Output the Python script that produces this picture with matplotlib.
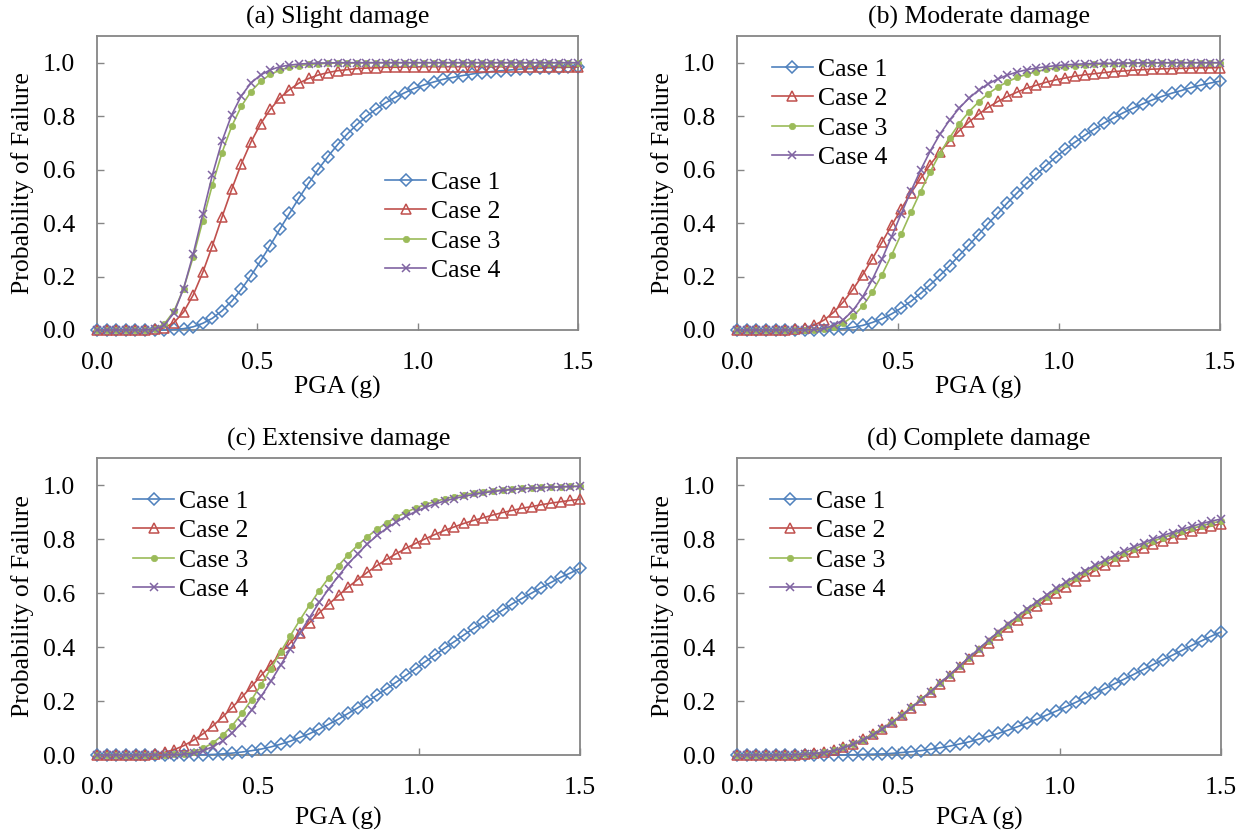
import matplotlib
matplotlib.use("Agg")
import matplotlib.pyplot as plt

plt.rcParams['font.family'] = ['Liberation Serif', 'DejaVu Serif']

pga = [0.00, 0.03, 0.06, 0.09, 0.12, 0.15, 0.18, 0.21, 0.24, 0.27,
       0.30, 0.33, 0.36, 0.39, 0.42, 0.45, 0.48, 0.51, 0.54, 0.57,
       0.60, 0.63, 0.66, 0.69, 0.72, 0.75, 0.78, 0.81, 0.84, 0.87,
       0.90, 0.93, 0.96, 0.99, 1.02, 1.05, 1.08, 1.11, 1.14, 1.17,
       1.20, 1.23, 1.26, 1.29, 1.32, 1.35, 1.38, 1.41, 1.44, 1.47, 1.50]

case_labels = ["Case 1", "Case 2", "Case 3", "Case 4"]
panel_titles = ["(a) Slight damage", "(b) Moderate damage",
                "(c) Extensive damage", "(d) Complete damage"]

# (a) Slight damage
slight_c1 = [0]*8 + [0.002, 0.005, 0.012, 0.025, 0.044, 0.072, 0.108, 0.152, 0.203, 0.258,
                     0.316, 0.377, 0.436, 0.494, 0.549, 0.601, 0.649, 0.693, 0.733, 0.768,
                     0.799, 0.826, 0.850, 0.870, 0.888, 0.904, 0.917, 0.928, 0.938, 0.945,
                     0.952, 0.958, 0.963, 0.967, 0.970, 0.973, 0.976, 0.978, 0.979, 0.981,
                     0.982, 0.983, 0.984]
slight_c2 = [0]*6 + [0.002, 0.008, 0.028, 0.067, 0.131, 0.216, 0.316, 0.423, 0.526, 0.621,
                     0.703, 0.771, 0.825, 0.868, 0.899, 0.924, 0.941, 0.954, 0.963, 0.970,
                     0.974, 0.978, 0.980, 0.981, 0.983, 0.983, 0.984, 0.984] + [0.985]*17
slight_c3 = [0]*6 + [0.005, 0.023, 0.070, 0.155, 0.273, 0.409, 0.544, 0.664, 0.762, 0.837,
                     0.892, 0.930, 0.956, 0.972, 0.983, 0.989, 0.994, 0.996, 0.998, 0.999,
                     0.999, 0.999] + [1.0]*23
slight_c4 = [0]*6 + [0.003, 0.018, 0.064, 0.155, 0.284, 0.434, 0.581, 0.707, 0.805, 0.876,
                     0.924, 0.954, 0.973, 0.985, 0.991, 0.995, 0.997, 0.999, 0.999] + [1.0]*26

# (b) Moderate damage
moderate_c1 = [0]*9 + [0.001, 0.002, 0.005, 0.010, 0.017, 0.028, 0.042, 0.060, 0.082, 0.107,
                       0.137, 0.169, 0.204, 0.240, 0.279, 0.317, 0.357, 0.398, 0.436, 0.476,
                       0.513, 0.549, 0.582, 0.615, 0.647, 0.676, 0.703, 0.728, 0.752, 0.774,
                       0.794, 0.813, 0.830, 0.846, 0.861, 0.874, 0.886, 0.896, 0.907, 0.916,
                       0.924, 0.931]
moderate_c2 = [0]*6 + [0.002, 0.007, 0.018, 0.037, 0.066, 0.105, 0.152, 0.206, 0.266, 0.328,
                       0.391, 0.453, 0.512, 0.567, 0.619, 0.665, 0.707, 0.745, 0.778, 0.807,
                       0.833, 0.855, 0.874, 0.890, 0.905, 0.916, 0.927, 0.936, 0.943, 0.950,
                       0.955, 0.959, 0.963, 0.967, 0.969, 0.972, 0.974, 0.976, 0.977, 0.978,
                       0.979, 0.980, 0.981, 0.981, 0.982]
moderate_c3 = [0]*8 + [0.001, 0.004, 0.011, 0.025, 0.051, 0.089, 0.141, 0.206, 0.280, 0.359,
                       0.440, 0.518, 0.592, 0.660, 0.719, 0.772, 0.816, 0.853, 0.884, 0.909,
                       0.929, 0.945, 0.957, 0.967, 0.975, 0.981, 0.985, 0.989, 0.991, 0.994,
                       0.995, 0.996, 0.997, 0.998, 0.998, 0.999, 0.999] + [1.0]*6
moderate_c4 = [0]*8 + [0.002, 0.006, 0.017, 0.038, 0.073, 0.123, 0.188, 0.264, 0.349, 0.435,
                       0.519, 0.598, 0.669, 0.732, 0.785, 0.830, 0.867, 0.897, 0.921, 0.939,
                       0.954, 0.965, 0.974, 0.980, 0.985, 0.989, 0.992, 0.994, 0.996, 0.997,
                       0.998, 0.998, 0.999, 0.999] + [1.0]*9

# (c) Extensive damage
extensive_c1 = [0]*10 + [0.001, 0.001, 0.002, 0.004, 0.007, 0.011, 0.016, 0.022, 0.030, 0.040,
                         0.051, 0.065, 0.079, 0.096, 0.114, 0.133, 0.154, 0.175, 0.198, 0.222,
                         0.246, 0.270, 0.295, 0.320, 0.346, 0.371, 0.396, 0.420, 0.445, 0.469,
                         0.492, 0.515, 0.537, 0.560, 0.580, 0.600, 0.620, 0.639, 0.658, 0.674,
                         0.691]
extensive_c2 = [0]*5 + [0.001, 0.004, 0.010, 0.020, 0.035, 0.055, 0.079, 0.108, 0.141, 0.176,
                        0.214, 0.254, 0.295, 0.335, 0.376, 0.415, 0.453, 0.490, 0.526, 0.559,
                        0.591, 0.622, 0.650, 0.677, 0.702, 0.725, 0.746, 0.766, 0.784, 0.801,
                        0.817, 0.832, 0.845, 0.858, 0.869, 0.879, 0.889, 0.898, 0.906, 0.914,
                        0.920, 0.927, 0.933, 0.938, 0.943, 0.947]
extensive_c3 = [0]*8 + [0.002, 0.005, 0.012, 0.025, 0.045, 0.073, 0.109, 0.154, 0.205, 0.261,
                        0.320, 0.381, 0.441, 0.500, 0.555, 0.609, 0.657, 0.701, 0.742, 0.777,
                        0.809, 0.836, 0.860, 0.881, 0.899, 0.915, 0.928, 0.939, 0.949, 0.957,
                        0.964, 0.970, 0.975, 0.979, 0.982, 0.985, 0.988, 0.990, 0.991, 0.993,
                        0.994, 0.995, 0.996]
extensive_c4 = [0]*8 + [0.001, 0.003, 0.007, 0.016, 0.031, 0.052, 0.082, 0.120, 0.166, 0.217,
                        0.273, 0.332, 0.392, 0.451, 0.509, 0.565, 0.616, 0.663, 0.708, 0.746,
                        0.782, 0.813, 0.840, 0.863, 0.884, 0.902, 0.917, 0.930, 0.941, 0.950,
                        0.958, 0.965, 0.971, 0.976, 0.980, 0.983, 0.986, 0.988, 0.990, 0.992,
                        0.993, 0.994, 0.995]

# (d) Complete damage
complete_c1 = [0]*12 + [0.001, 0.002, 0.003, 0.004, 0.006, 0.009, 0.012, 0.016, 0.021, 0.027,
                        0.033, 0.041, 0.049, 0.059, 0.069, 0.080, 0.092, 0.105, 0.119, 0.133,
                        0.148, 0.163, 0.179, 0.195, 0.212, 0.229, 0.246, 0.264, 0.281, 0.299,
                        0.317, 0.335, 0.353, 0.370, 0.388, 0.406, 0.423, 0.440, 0.456]
complete_c2 = [0]*6 + [0.001, 0.003, 0.006, 0.011, 0.018, 0.029, 0.042, 0.058, 0.077, 0.098,
                       0.122, 0.148, 0.175, 0.204, 0.233, 0.264, 0.294, 0.325, 0.355, 0.385,
                       0.416, 0.444, 0.473, 0.500, 0.527, 0.552, 0.576, 0.600, 0.623, 0.644,
                       0.664, 0.683, 0.702, 0.719, 0.736, 0.751, 0.766, 0.780, 0.793, 0.805,
                       0.817, 0.828, 0.839, 0.848, 0.857]
complete_c3 = [0]*6 + [0.001, 0.002, 0.005, 0.010, 0.018, 0.028, 0.041, 0.057, 0.076, 0.098,
                       0.122, 0.148, 0.176, 0.206, 0.236, 0.267, 0.298, 0.330, 0.361, 0.392,
                       0.423, 0.452, 0.482, 0.509, 0.537, 0.562, 0.587, 0.611, 0.634, 0.655,
                       0.676, 0.695, 0.714, 0.731, 0.747, 0.763, 0.778, 0.792, 0.805, 0.817,
                       0.828, 0.839, 0.849, 0.858, 0.867]
complete_c4 = [0]*6 + [0.001, 0.002, 0.005, 0.009, 0.016, 0.026, 0.039, 0.054, 0.073, 0.095,
                       0.119, 0.146, 0.174, 0.204, 0.235, 0.267, 0.298, 0.331, 0.362, 0.394,
                       0.426, 0.456, 0.486, 0.514, 0.542, 0.568, 0.593, 0.618, 0.641, 0.663,
                       0.683, 0.703, 0.721, 0.739, 0.755, 0.771, 0.786, 0.800, 0.813, 0.824,
                       0.836, 0.847, 0.857, 0.866, 0.874]

panels = [
    [slight_c1, slight_c2, slight_c3, slight_c4],
    [moderate_c1, moderate_c2, moderate_c3, moderate_c4],
    [extensive_c1, extensive_c2, extensive_c3, extensive_c4],
    [complete_c1, complete_c2, complete_c3, complete_c4],
]

x_ticks = [0.0, 0.5, 1.0, 1.5]
y_ticks = [0.0, 0.2, 0.4, 0.6, 0.8, 1.0]

colors = ['#4F81BD', '#C0504D', '#9BBB59', '#8064A2']
styles = [
    dict(marker='D', markersize=5.8, markerfacecolor='none', markeredgewidth=1.1),
    dict(marker='^', markersize=7.5, markerfacecolor='none', markeredgewidth=1.1),
    dict(marker='o', markersize=4.6, markeredgewidth=0.5),
    dict(marker='x', markersize=6.0, markeredgewidth=1.1),
]

FS = 18.5
fig = plt.figure(figsize=(12.5, 8.33), dpi=100)

axes_rects = [
    [97/1250, 1-330/833, 481/1250, 294/833],
    [737/1250, 1-330/833, 483/1250, 294/833],
    [97/1250, 1-755/833, 483/1250, 297/833],
    [737/1250, 1-755/833, 484/1250, 297/833],
]
legend_anchor = [
    (0.599, 0.541),
    (0.072, 0.926),
    (0.0745, 0.893),
    (0.068, 0.893),
]
xlabel_pads = [2, 2, 6, 6]

spine_color = '#868686'
for i, rect in enumerate(axes_rects):
    ax = fig.add_axes(rect)
    for j, series in enumerate(panels[i]):
        ax.plot(pga, series, color=colors[j], linewidth=1.2,
                markeredgecolor=colors[j], label=case_labels[j],
                clip_on=False, zorder=3 + j, **styles[j])
    ax.set_xlim(0, 1.5)
    ax.set_ylim(0, 1.1)
    ax.set_xticks(x_ticks)
    ax.set_yticks(y_ticks)
    ax.set_xticklabels([f"{v:.1f}" for v in x_ticks])
    ax.set_yticklabels([f"{v:.1f}" for v in y_ticks])
    ax.tick_params(axis='both', direction='in', length=5, width=1.0,
                   color=spine_color, labelsize=FS)
    ax.tick_params(axis='y', pad=16)
    ax.tick_params(axis='x', pad=15.5)
    ax.tick_params(top=False, right=False)
    for s in ax.spines.values():
        s.set_color(spine_color)
        s.set_linewidth(1.3)
    ax.set_title(panel_titles[i], fontsize=FS, pad=9)
    ax.set_xlabel("PGA (g)", fontsize=FS, labelpad=xlabel_pads[i])
    ax.set_ylabel("Probability of Failure", fontsize=FS, labelpad=6)
    ax.legend(loc='upper left', bbox_to_anchor=legend_anchor[i], frameon=False,
              fontsize=FS, borderpad=0, borderaxespad=0, labelspacing=0.25,
              handlelength=1.6, handletextpad=0.2)

fig.savefig("out.png", dpi=100)
